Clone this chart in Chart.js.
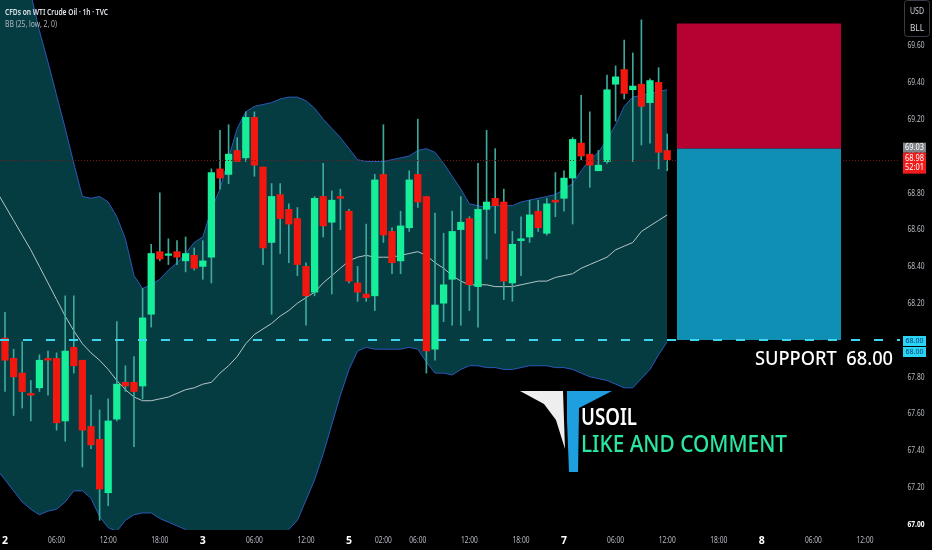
<!DOCTYPE html>
<html><head><meta charset="utf-8">
<script src="https://cdn.jsdelivr.net/npm/chart.js@4.4.1/dist/chart.umd.min.js"></script>
<style>html,body{margin:0;padding:0;background:#000;}canvas{display:block}</style>
</head><body>
<canvas id="c" width="932" height="550"></canvas>
<script>
// ---- DATA (hourly candles, first entry is just off-screen) ----
const opens = [68.08,68.01,67.90,67.82,67.71,67.74,67.90,67.90,67.56,67.96,
67.89,67.53,67.46,67.17,67.57,67.77,67.77,67.75,68.14,68.48,
68.46,68.48,68.43,68.46,68.40,68.45,68.93,68.90,69.03,68.99,
69.21,68.94,68.53,68.79,68.71,68.66,68.40,68.26,68.78,68.64,
68.78,68.70,68.31,68.25,68.24,68.90,68.59,68.43,68.61,68.90,
68.78,67.95,68.20,68.33,68.60,68.66,68.29,68.71,68.77,68.75,
68.31,68.54,68.56,68.70,68.58,68.76,68.77,68.88,69.07,69.01,
68.92,68.97,69.39,69.47,69.36,69.39,69.29,69.40,69.03];
const highs = [68.15,68.15,67.95,67.99,67.78,67.92,67.94,67.93,68.24,68.24,
67.89,67.70,67.62,67.68,68.10,67.86,67.91,68.28,68.52,68.80,
68.55,68.54,68.56,68.50,68.54,68.93,69.14,69.17,69.10,69.24,
69.24,68.94,68.85,68.85,68.74,68.72,68.42,68.78,68.96,68.81,
68.82,68.71,68.40,68.63,68.90,69.17,68.61,68.70,68.92,69.20,
68.78,68.69,68.58,68.70,68.78,68.67,68.96,69.14,69.04,68.82,
68.59,68.67,68.76,68.76,68.77,68.91,68.92,69.10,69.33,69.24,
69.03,69.44,69.49,69.63,69.56,69.74,69.42,69.48,69.12];
const lows = [67.98,67.72,67.59,67.63,67.56,67.72,67.70,67.51,67.45,67.82,
67.31,67.41,67.02,67.10,67.56,67.72,67.42,67.68,68.07,68.43,
68.41,68.41,68.37,68.38,68.33,68.31,68.82,68.85,68.97,68.97,
68.89,68.41,68.14,68.47,68.42,68.35,68.08,68.24,68.56,68.25,
68.60,68.31,68.21,68.21,68.16,68.53,68.36,68.36,68.59,68.72,
67.82,67.89,68.10,68.08,68.08,68.16,68.07,68.44,68.58,68.22,
68.21,68.35,68.53,68.59,68.57,68.67,68.70,68.63,68.98,68.83,
68.92,68.96,69.19,69.31,68.97,69.06,69.07,68.93,68.92];
const closes = [68.02,67.89,67.80,67.72,67.70,67.89,67.89,67.55,67.94,67.86,
67.51,67.43,67.19,67.56,67.76,67.75,67.72,68.12,68.47,68.44,
68.46,68.45,68.47,68.39,68.43,68.91,68.88,69.01,68.97,69.21,
68.95,68.50,68.78,68.66,68.63,68.41,68.24,68.77,68.62,68.76,
68.77,68.32,68.26,68.23,68.87,68.57,68.42,68.62,68.87,68.75,
67.94,68.19,68.30,68.59,68.64,68.30,68.71,68.75,68.73,68.32,
68.52,68.55,68.68,68.61,68.74,68.75,68.88,69.09,69.00,68.95,
68.95,69.36,69.43,69.34,69.38,69.27,69.41,69.02,68.98];
// Bollinger Bands (25, low, 2)
const bbUpper = [70.62,70.43,70.25,70.07,69.88,69.68,69.51,69.33,69.15,68.96,
68.78,68.77,68.78,68.75,68.67,68.55,68.35,68.28,68.30,68.33,
68.38,68.42,68.47,68.53,68.56,68.71,68.82,68.99,69.15,69.24,
69.27,69.28,69.29,69.31,69.32,69.32,69.30,69.26,69.20,69.15,
69.10,69.04,68.98,68.97,68.97,68.97,68.98,68.99,69.00,69.03,
69.04,69.02,68.96,68.89,68.82,68.74,68.73,68.72,68.73,68.73,
68.73,68.75,68.76,68.77,68.78,68.79,68.82,68.85,68.92,68.98,
69.02,69.09,69.17,69.27,69.32,69.33,69.34,69.35,69.36];
const bbLower = [67.30,67.24,67.18,67.12,67.08,67.05,67.07,67.08,67.12,67.18,
67.18,67.14,67.04,66.98,66.96,67.02,67.05,67.06,67.06,67.03,
67.01,66.99,66.97,66.89,66.83,66.80,66.78,66.77,66.77,66.77,
66.79,66.83,66.88,66.92,66.97,67.02,67.13,67.24,67.38,67.54,
67.70,67.84,67.94,67.96,67.95,67.95,67.95,67.95,67.96,67.95,
67.88,67.82,67.82,67.81,67.84,67.86,67.86,67.85,67.85,67.84,
67.84,67.85,67.86,67.86,67.86,67.85,67.85,67.84,67.82,67.80,
67.79,67.78,67.76,67.74,67.74,67.79,67.84,67.92,67.99];
const bbBasis = [68.81,68.73,68.65,68.57,68.49,68.40,68.31,68.22,68.13,68.05,
67.98,67.93,67.89,67.84,67.78,67.73,67.69,67.67,67.67,67.68,
67.69,67.71,67.73,67.74,67.76,67.77,67.82,67.86,67.91,67.98,
68.03,68.06,68.09,68.13,68.16,68.20,68.23,68.26,68.31,68.35,
68.39,68.43,68.45,68.46,68.45,68.45,68.45,68.46,68.47,68.48,
68.46,68.42,68.39,68.35,68.32,68.30,68.30,68.30,68.29,68.29,
68.29,68.30,68.31,68.32,68.32,68.34,68.35,68.36,68.39,68.41,
68.43,68.45,68.49,68.51,68.53,68.59,68.62,68.65,68.68];
// time axis (bar index -> label)
const timeTickBars = [1,7,13,19,24,30,36,41,45,49,55,61,66,72,78,84,89,95,101];
const timeTickLabels = ["2","06:00","12:00","18:00","3","06:00","12:00","5","02:00","06:00","12:00","18:00","7","06:00","12:00","18:00","8","06:00","12:00"];
const priceTicks = [67.00,67.20,67.40,67.60,67.80,68.00,68.20,68.40,68.60,68.80,69.00,69.20,69.40,69.60];
// levels
const lastPrice = 68.98;
const entryPrice = 69.04;
const stopPrice = 69.72;
const targetPrice = 68.00;
const supportLevel = 68.00;
const positionFromBar = 79.14;
const positionToBar = 98.21;

// ---- styles ----
const GREEN = '#17ee9a', RED = '#f2180f', WICK = '#3ea89c';
const FONT = "'Noto Sans','Liberation Sans',sans-serif";

const bodyData = opens.map((o,k)=>({x:k, y:[o, closes[k]]}));
const wickData = lows.map((l,k)=>({x:k, y:[l, highs[k]]}));
const bodyColors = opens.map((o,k)=> closes[k] >= o ? GREEN : RED);
const pts = arr => arr.map((v,k)=>({x:k, y:v}));

function txt(ctx, s, x, y, size, color, align, maxW, weight, base){
  ctx.save();
  ctx.font = (weight||'normal') + ' ' + size + 'px ' + FONT;
  ctx.fillStyle = color; ctx.textAlign = align || 'left';
  ctx.textBaseline = base || 'middle';
  if (maxW) ctx.fillText(s, x, y, maxW); else ctx.fillText(s, x, y);
  ctx.restore();
}

const overlay = {
  id: 'overlay',
  afterDatasetsDraw(chart){
    const ctx = chart.ctx, xs = chart.scales.x, ys = chart.scales.y;
    const L = chart.chartArea.left, R = chart.chartArea.right;
    ctx.save();
    ctx.beginPath(); ctx.rect(L, chart.chartArea.top, R-L, chart.chartArea.bottom-chart.chartArea.top); ctx.clip();
    // last price dotted line
    const yl = Math.round(ys.getPixelForValue(lastPrice)) + 0.5;
    ctx.strokeStyle = '#7a1616'; ctx.lineWidth = 1; ctx.setLineDash([1,2]);
    ctx.beginPath(); ctx.moveTo(L, yl); ctx.lineTo(R, yl); ctx.stroke();
    ctx.setLineDash([]);
    // position boxes
    const x1 = xs.getPixelForValue(positionFromBar), x2 = xs.getPixelForValue(positionToBar);
    const yS = ys.getPixelForValue(stopPrice), yE = ys.getPixelForValue(entryPrice), yT = ys.getPixelForValue(targetPrice);
    ctx.fillStyle = '#b60232'; ctx.fillRect(x1, yS, x2-x1, yE-yS);
    ctx.fillStyle = '#108fb4'; ctx.fillRect(x1, yE, x2-x1, yT-yE);
    // support dashed line
    const ys0 = ys.getPixelForValue(supportLevel);
    ctx.strokeStyle = '#3cd6ef'; ctx.lineWidth = 2; ctx.setLineDash([9,14]);
    ctx.beginPath(); ctx.moveTo(L, ys0); ctx.lineTo(R, ys0); ctx.stroke();
    ctx.setLineDash([]);
    ctx.restore();
    // support text
    txt(ctx, 'SUPPORT  ' + supportLevel.toFixed(2), 755, ys0 + 25, 20, '#ffffff', 'left', 138, '500', 'alphabetic');
    // logo
    ctx.save();
    ctx.fillStyle = '#eeeeee';
    ctx.beginPath(); ctx.moveTo(520,391); ctx.lineTo(563,391); ctx.lineTo(565,449); ctx.lineTo(556,420); ctx.lineTo(544,404); ctx.closePath(); ctx.fill();
    ctx.fillStyle = '#1e9fe0';
    ctx.beginPath(); ctx.moveTo(567,391); ctx.lineTo(612,391); ctx.lineTo(579,408); ctx.lineTo(578,472); ctx.lineTo(569,472); ctx.lineTo(567,420); ctx.closePath(); ctx.fill();
    ctx.restore();
    txt(ctx, 'USOIL', 581, 425, 24, '#ffffff', 'left', 56, '600', 'alphabetic');
    txt(ctx, 'LIKE AND COMMENT', 581, 452, 24, '#2be6a0', 'left', 206, '500', 'alphabetic');
  },
  afterDraw(chart){
    const ctx = chart.ctx, xs = chart.scales.x, ys = chart.scales.y;
    // price axis labels
    priceTicks.forEach(v=>{
      const y = ys.getPixelForValue(v);
      txt(ctx, v.toFixed(2), 916, y, 9.5, v === 67 ? '#ffffff' : '#b8bcc4', 'center', 17, v === 67 ? 'bold' : 'normal');
    });
    // time axis labels
    timeTickBars.forEach((b,i)=>{
      const x = xs.getPixelForValue(b), s = timeTickLabels[i];
      const day = s.indexOf(':') < 0;
      if (x > 905) return;
      txt(ctx, s, x, 541, day ? 10.5 : 8.5, day ? '#ffffff' : '#b8bcc4', 'center', day ? 8 : 17, day ? 'bold' : 'normal');
    });
    // price flags
    const yl = ys.getPixelForValue(lastPrice);
    const redTop = yl - 7;
    ctx.fillStyle = '#808389'; ctx.fillRect(903, redTop - 10, 23, 10);
    txt(ctx, '69.03', 914.5, redTop - 5, 8, '#ffffff', 'center', 19);
    ctx.fillStyle = '#f01c1c'; ctx.fillRect(903, redTop, 23, 21);
    txt(ctx, lastPrice.toFixed(2), 914.5, redTop + 6, 8, '#ffffff', 'center', 19);
    txt(ctx, '52:01', 914.5, redTop + 15, 8, '#ffffff', 'center', 19);
    const y0 = ys.getPixelForValue(supportLevel);
    ctx.fillStyle = '#2ad4f4';
    ctx.fillRect(903, y0 - 4, 23, 10); ctx.fillRect(903, y0 + 7, 23, 10);
    txt(ctx, supportLevel.toFixed(2), 914.5, y0 + 1, 7.5, '#0b3d7a', 'center', 18);
    txt(ctx, supportLevel.toFixed(2), 914.5, y0 + 12, 7.5, '#0b3d7a', 'center', 18);
    // currency/unit box
    ctx.save();
    ctx.strokeStyle = '#3a3d45'; ctx.lineWidth = 1;
    ctx.beginPath(); ctx.roundRect(904.5, 0.5, 25, 36, 3); ctx.stroke();
    ctx.restore();
    txt(ctx, 'USD', 917, 12, 8.5, '#d1d4dc', 'center', 14);
    txt(ctx, 'BLL', 917, 29, 8.5, '#d1d4dc', 'center', 14);
    // header
    txt(ctx, 'CFDs on WTI Crude Oil · 1h · TVC', 5, 12, 9.5, '#e0e3eb', 'left', 103, '600');
    txt(ctx, 'BB (25, low, 2, 0)', 5, 24.5, 9.5, '#b2b5be', 'left', 52);
  }
};

new Chart(document.getElementById('c'), {
  type: 'bar',
  data: {
    datasets: [
      {type:'bar', data: bodyData, backgroundColor: bodyColors, borderWidth: 0, barThickness: 6.6, grouped: false, minBarLength: 1.5, order: 0},
      {type:'bar', data: wickData, backgroundColor: WICK, borderWidth: 0, barThickness: 1, grouped: false, order: 1},
      {type:'line', data: pts(bbBasis), borderColor: '#b5c6c6', borderWidth: 1, pointRadius: 0, fill: false, order: 2},
      {type:'line', data: pts(bbLower), borderColor: '#2b58b8', borderWidth: 1, pointRadius: 0, fill: false, order: 3},
      {type:'line', data: pts(bbUpper), borderColor: '#2b58b8', borderWidth: 1, pointRadius: 0, fill: {target: 3}, backgroundColor: '#053c41', order: 4}
    ]
  },
  options: {
    responsive: false, animation: false, devicePixelRatio: 1,
    layout: {padding: 0},
    plugins: {legend: {display: false}, tooltip: {enabled: false}},
    scales: {
      x: {type: 'linear', min: 3.6/8.6, max: 903.6/8.6, offset: false,
          grid: {display: false, drawTicks: false}, border: {display: false},
          ticks: {display: false}, afterFit: s => { s.height = 20; }},
      y: {type: 'linear', position: 'right', min: 68 - 190/184, max: 68 + 340/184,
          grid: {display: false, drawTicks: false}, border: {display: false},
          ticks: {display: false}, afterFit: s => { s.width = 32; }}
    }
  },
  plugins: [overlay]
});
</script>
</body></html>
